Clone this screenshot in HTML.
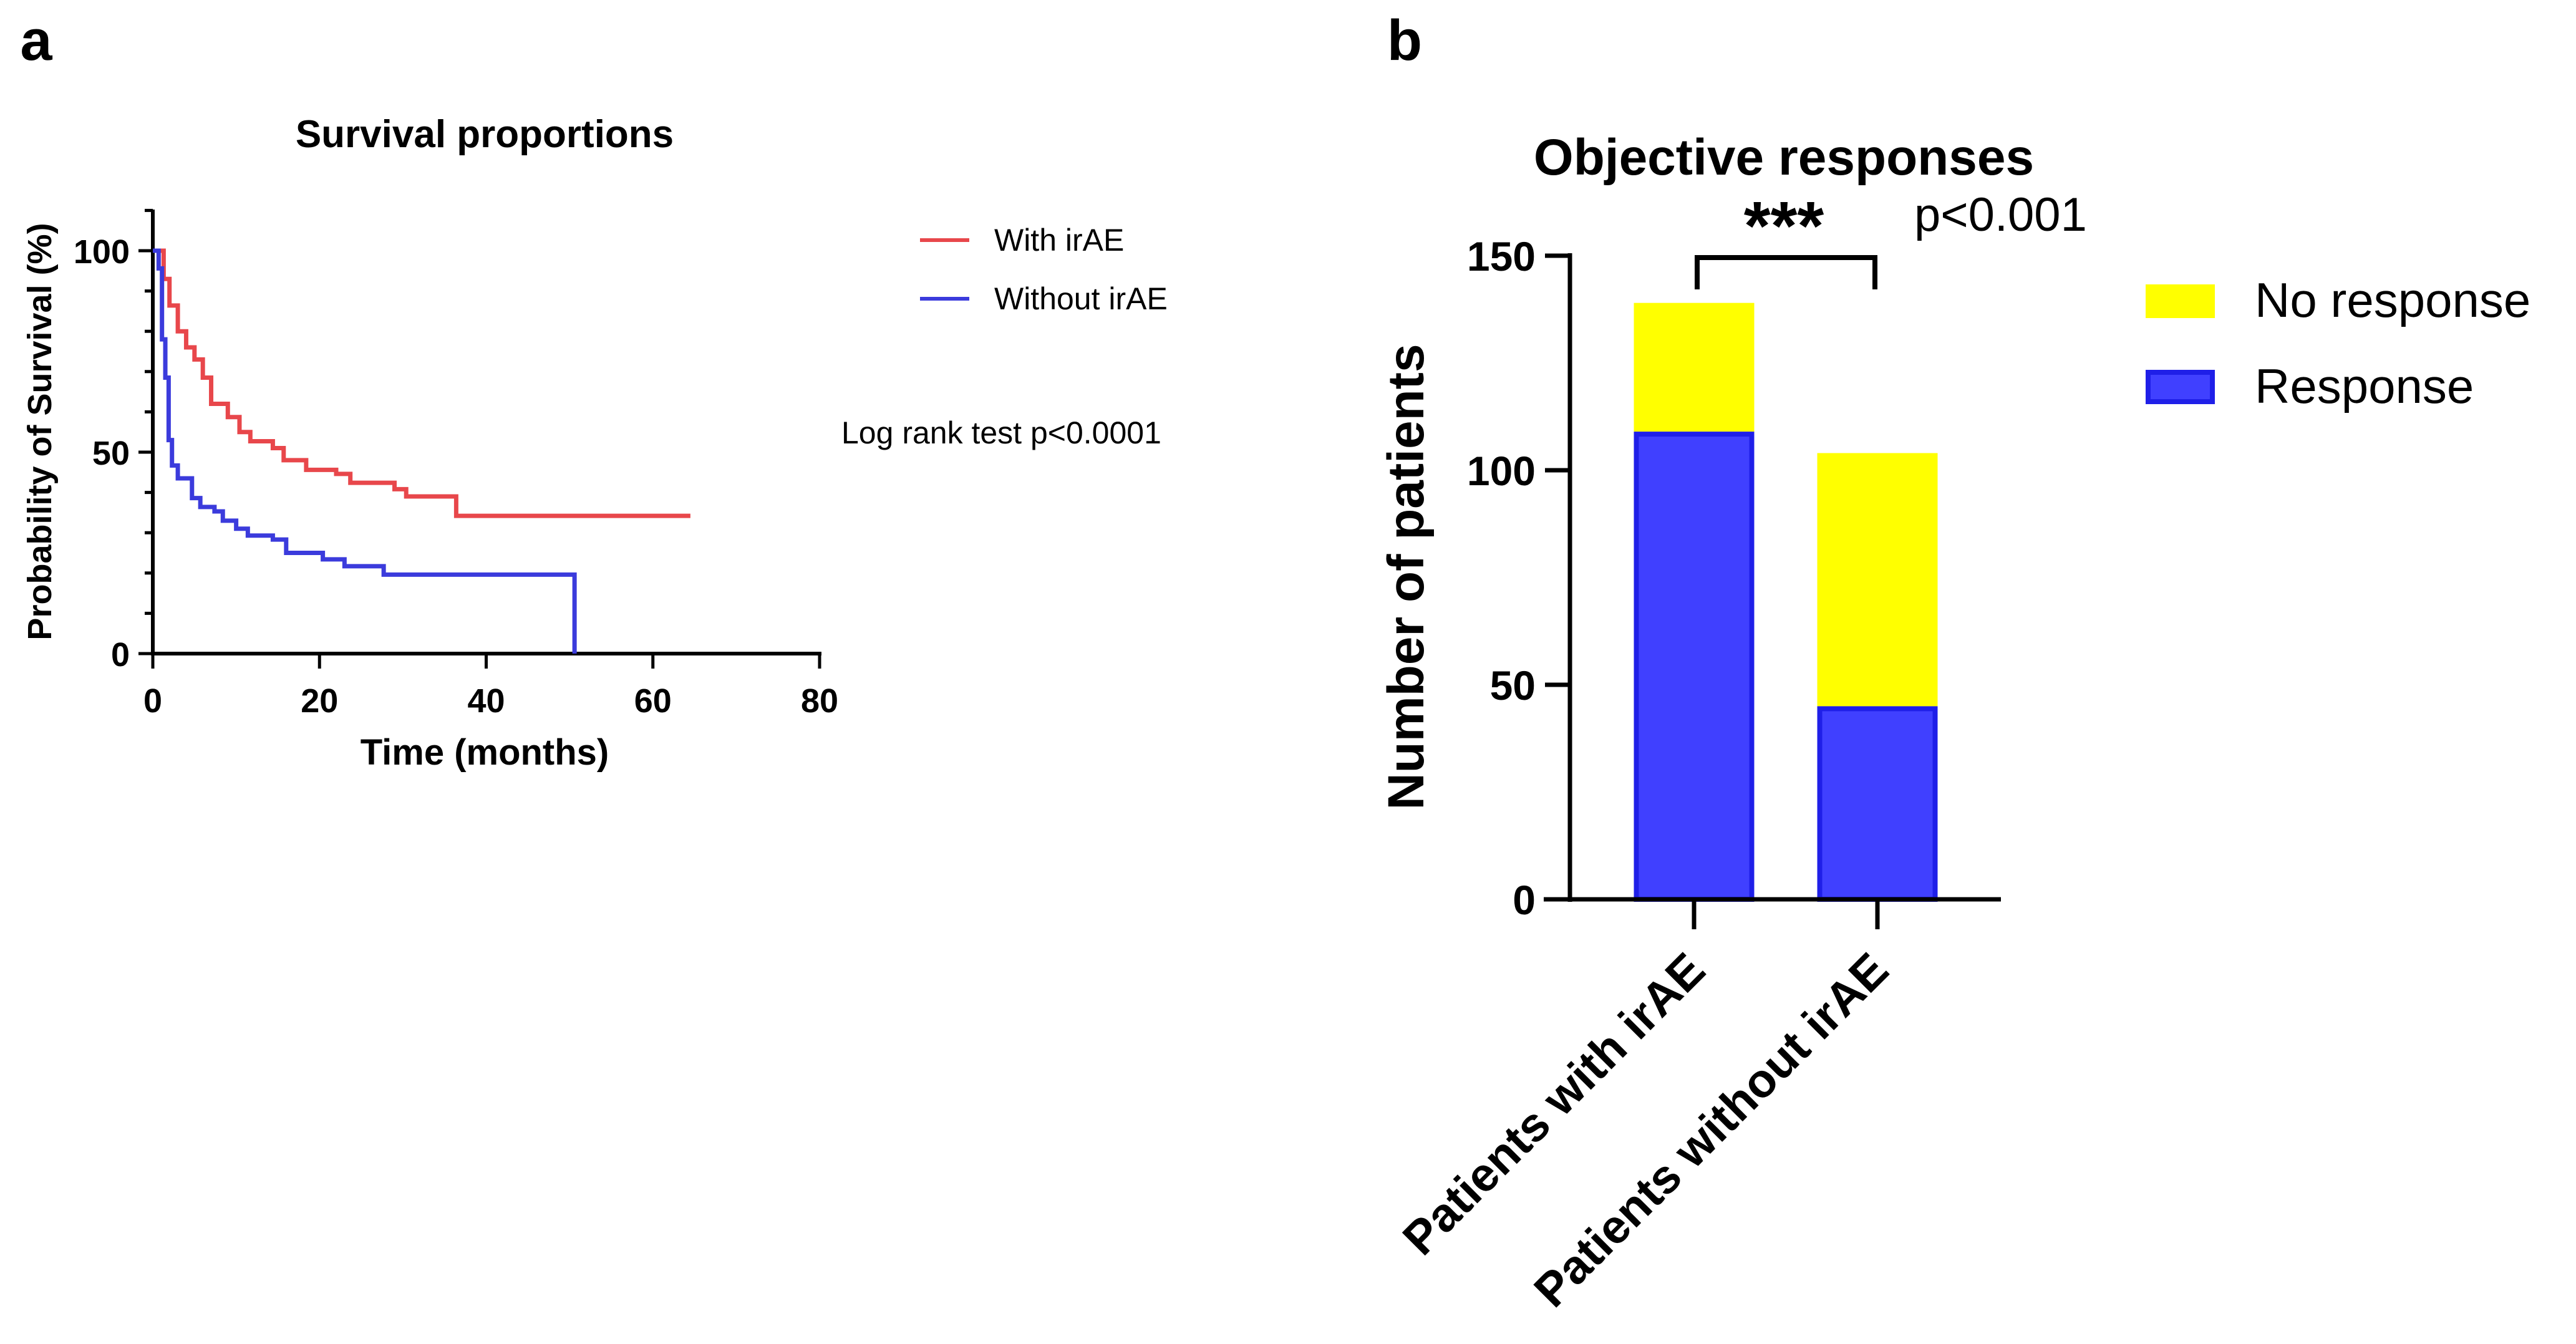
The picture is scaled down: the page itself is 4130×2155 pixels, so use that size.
<!DOCTYPE html>
<html><head><meta charset="utf-8"><style>
html,body{margin:0;padding:0;background:#fff;}
svg{display:block;font-family:"Liberation Sans",Arial,sans-serif;}
</style></head><body>
<svg id="fig" width="4130" height="2155" viewBox="0 0 4130 2155" xmlns="http://www.w3.org/2000/svg">
<rect width="4130" height="2155" fill="#fff"/>
<text x="58" y="96" font-size="92" font-weight="bold" text-anchor="middle">a</text>
<text x="2252" y="96" font-size="92" font-weight="bold" text-anchor="middle">b</text>
<g id="pa"></g>
<g id="pb"></g>
</svg>
<script>
// ---- Panel a data ----
const xTicksA = [0, 20, 40, 60, 80];
const yTicksA = [0, 50, 100];
const redTimes = [0, 1.3, 2, 3, 4, 5, 6, 7, 9, 10.4, 11.7, 14.4, 15.7, 18.4, 22, 23.7, 29, 30.4, 36.4, 64.5];
const redSurv  = [100, 93, 86.4, 80, 76, 73, 68.5, 62, 58.7, 55, 52.7, 51, 48, 45.6, 44.6, 42.4, 40.8, 39, 34.2, 34.2];
const blueTimes = [0, 0.7, 1.1, 1.5, 1.9, 2.3, 3, 4.7, 5.7, 7.4, 8.4, 10, 11.4, 14.4, 16, 20.4, 23, 27.7, 50.6];
const blueSurv  = [100, 95.6, 78, 68.5, 53, 46.7, 43.5, 38.6, 36.4, 35.3, 33, 31, 29.3, 28.3, 25, 23.4, 21.7, 19.6, 0];
// ---- Panel b data ----
const groups = ["Patients with irAE", "Patients without irAE"];
const responseVals = [109, 45];
const noResponseVals = [30, 59];
const yTicksB = [0, 50, 100, 150];

const NS = "http://www.w3.org/2000/svg";
function mk(parent, tag, attrs, txt) {
  const e = document.createElementNS(NS, tag);
  for (const k in attrs) e.setAttribute(k, attrs[k]);
  if (txt !== undefined) e.textContent = txt;
  parent.appendChild(e);
  return e;
}
// Panel a
const pa = document.getElementById('pa');
const ax = t => 245 + t * (1314 - 245) / 80;
const ay = v => 1048 - v * (1048 - 402) / 100;
let e;
e = mk(pa, 'text', {x: 777, y: 236, 'font-size': 62, 'font-weight': 'bold', 'text-anchor': 'middle'}, 'Survival proportions');


e = mk(pa, 'line', {x1: 245, y1: 336, x2: 245, y2: 1051, stroke: '#000', 'stroke-width': 6});


e = mk(pa, 'line', {x1: 242, y1: 1048, x2: 1317, y2: 1048, stroke: '#000', 'stroke-width': 6});


for (let v = 0; v <= 110; v += 10) {
  const major = v % 50 === 0;
  e = mk(pa, 'line', {x1: major ? 222 : 232, y1: ay(v), x2: 245, y2: ay(v), stroke: '#000', 'stroke-width': 5});
  
  
}
yTicksA.forEach(v => {
  e = mk(pa, 'text', {x: 208, y: ay(v) + 20, 'font-size': 54, 'font-weight': 'bold', 'text-anchor': 'end'}, String(v));
  
  
});
xTicksA.forEach(t => {
  e = mk(pa, 'line', {x1: ax(t), y1: 1048, x2: ax(t), y2: 1072, stroke: '#000', 'stroke-width': 5});
  
  
  e = mk(pa, 'text', {x: ax(t), y: 1142, 'font-size': 54, 'font-weight': 'bold', 'text-anchor': 'middle'}, String(t));
  
  
});
e = mk(pa, 'text', {x: 777, y: 1226, 'font-size': 58, 'font-weight': 'bold', 'text-anchor': 'middle'}, 'Time (months)');


e = mk(pa, 'text', {x: 0, y: 0, 'font-size': 54, 'font-weight': 'bold', 'text-anchor': 'middle', transform: 'translate(82,692) rotate(-90)'}, 'Probability of Survival (%)');


function stepPath(ts, vs) {
  let d = 'M' + ax(ts[0]) + ',' + ay(vs[0]);
  for (let i = 1; i < ts.length; i++) {
    d += ' H' + ax(ts[i]) + ' V' + ay(vs[i]);
  }
  return d;
}
e = mk(pa, 'path', {d: stepPath(redTimes, redSurv), fill: 'none', stroke: '#e8474b', 'stroke-width': 7});


e = mk(pa, 'path', {d: stepPath(blueTimes, blueSurv), fill: 'none', stroke: '#3b3bdc', 'stroke-width': 7});


e = mk(pa, 'line', {x1: 1475, y1: 385, x2: 1554, y2: 385, stroke: '#e8474b', 'stroke-width': 6});


e = mk(pa, 'text', {x: 1594, y: 402, 'font-size': 50}, 'With irAE');


e = mk(pa, 'line', {x1: 1475, y1: 479, x2: 1554, y2: 479, stroke: '#3b3bdc', 'stroke-width': 6});


e = mk(pa, 'text', {x: 1594, y: 496, 'font-size': 50}, 'Without irAE');


e = mk(pa, 'text', {x: 1349, y: 711, 'font-size': 50}, 'Log rank test p<0.0001');



// Panel b
const pb = document.getElementById('pb');
const by = v => 1442 - v * (1442 - 410) / 150;
const centers = [2716, 3010];
const bw = 193;
e = mk(pb, 'text', {x: 2860, y: 280, 'font-size': 82, 'font-weight': 'bold', 'text-anchor': 'middle'}, 'Objective responses');


groups.forEach((g, i) => {
  const c = centers[i];
  const r = responseVals[i], n = noResponseVals[i];
  e = mk(pb, 'rect', {x: c - bw / 2, y: by(r + n), width: bw, height: by(r) - by(r + n), fill: '#ffff00'});
  
  
  e = mk(pb, 'rect', {x: c - bw / 2 + 4, y: by(r) + 4, width: bw - 8, height: by(0) - by(r) - 4, fill: '#4040ff', stroke: '#1f1fe8', 'stroke-width': 8});
  
  
  e = mk(pb, 'line', {x1: c, y1: 1442, x2: c, y2: 1490, stroke: '#000', 'stroke-width': 7});
  
  
  e = mk(pb, 'text', {x: 0, y: 0, 'font-size': 76, 'font-weight': 'bold', 'text-anchor': 'end', transform: 'translate(' + (c + 22) + ',' + 1560 + ') rotate(-45)'}, g);
  
  
});
e = mk(pb, 'line', {x1: 2517, y1: 406, x2: 2517, y2: 1446, stroke: '#000', 'stroke-width': 7});


e = mk(pb, 'line', {x1: 2475, y1: 1442, x2: 3208, y2: 1442, stroke: '#000', 'stroke-width': 7});


yTicksB.forEach(v => {
  e = mk(pb, 'line', {x1: 2477, y1: by(v), x2: 2517, y2: by(v), stroke: '#000', 'stroke-width': 7});
  
  
  e = mk(pb, 'text', {x: 2462, y: by(v) + 24, 'font-size': 66, 'font-weight': 'bold', 'text-anchor': 'end'}, String(v));
  
  
});
e = mk(pb, 'text', {x: 0, y: 0, 'font-size': 82, 'font-weight': 'bold', 'text-anchor': 'middle', transform: 'translate(2282,925) rotate(-90)'}, 'Number of patients');


e = mk(pb, 'path', {d: 'M2721,464 V413 H3006 V464', fill: 'none', stroke: '#000', 'stroke-width': 8});


e = mk(pb, 'text', {x: 2860, y: 400, 'font-size': 110, 'font-weight': 'bold', 'text-anchor': 'middle'}, '***');


e = mk(pb, 'text', {x: 3069, y: 370, 'font-size': 76}, 'p<0.001');


e = mk(pb, 'rect', {x: 3440, y: 456, width: 111, height: 54, fill: '#ffff00'});


e = mk(pb, 'text', {x: 3615, y: 508, 'font-size': 78}, 'No response');


e = mk(pb, 'rect', {x: 3444, y: 597, width: 103, height: 47, fill: '#4040ff', stroke: '#1f1fe8', 'stroke-width': 8});


e = mk(pb, 'text', {x: 3615, y: 646, 'font-size': 78}, 'Response');


</script>
</body></html>
